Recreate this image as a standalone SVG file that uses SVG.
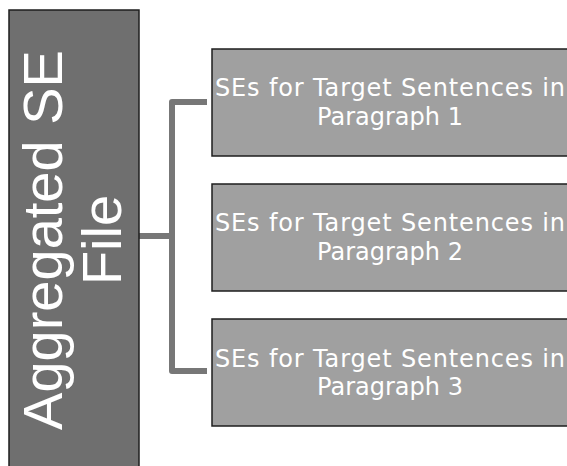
<svg xmlns="http://www.w3.org/2000/svg" width="567" height="466" viewBox="0 0 567 466">
<style>
.root{fill:#6f6f6f;stroke:#1e1e1e;stroke-width:1.5}
.child{fill:#a0a0a0;stroke:#1e1e1e;stroke-width:1.5}
.conn{fill:none;stroke:#777;stroke-width:6;stroke-linejoin:round}
.lt{font-family:"Liberation Sans",Arial,sans-serif;font-size:56px;fill:#fff;text-anchor:middle}
.ct{font-family:"DejaVu Sans","Liberation Sans",sans-serif;font-size:24px;fill:#fff;text-anchor:middle}
</style>
<rect width="567" height="466" fill="#fff"/>
<g id="connectors">
<path class="conn" d="M139,236 H172"/>
<path class="conn" d="M207,102 H172 V371 H207"/>
</g>
<g id="root">
<rect class="root" x="9" y="10" width="130" height="470"/>
<g transform="translate(0,240) rotate(-90)">
<text class="lt" x="0" y="62">Aggregated SE</text>
<text class="lt" x="0" y="121">File</text>
</g>
</g>
<g id="p1">
<rect class="child" x="212" y="49" width="370" height="107"/>
<text class="ct" x="390" y="96" textLength="350" lengthAdjust="spacing">SEs for Target Sentences in</text>
<text class="ct" x="390" y="125">Paragraph 1</text>
</g>
<g id="p2">
<rect class="child" x="212" y="184" width="370" height="107"/>
<text class="ct" x="390" y="231" textLength="350" lengthAdjust="spacing">SEs for Target Sentences in</text>
<text class="ct" x="390" y="260">Paragraph 2</text>
</g>
<g id="p3">
<rect class="child" x="212" y="319" width="370" height="107"/>
<text class="ct" x="390" y="367" textLength="350" lengthAdjust="spacing">SEs for Target Sentences in</text>
<text class="ct" x="390" y="395">Paragraph 3</text>
</g>
</svg>
